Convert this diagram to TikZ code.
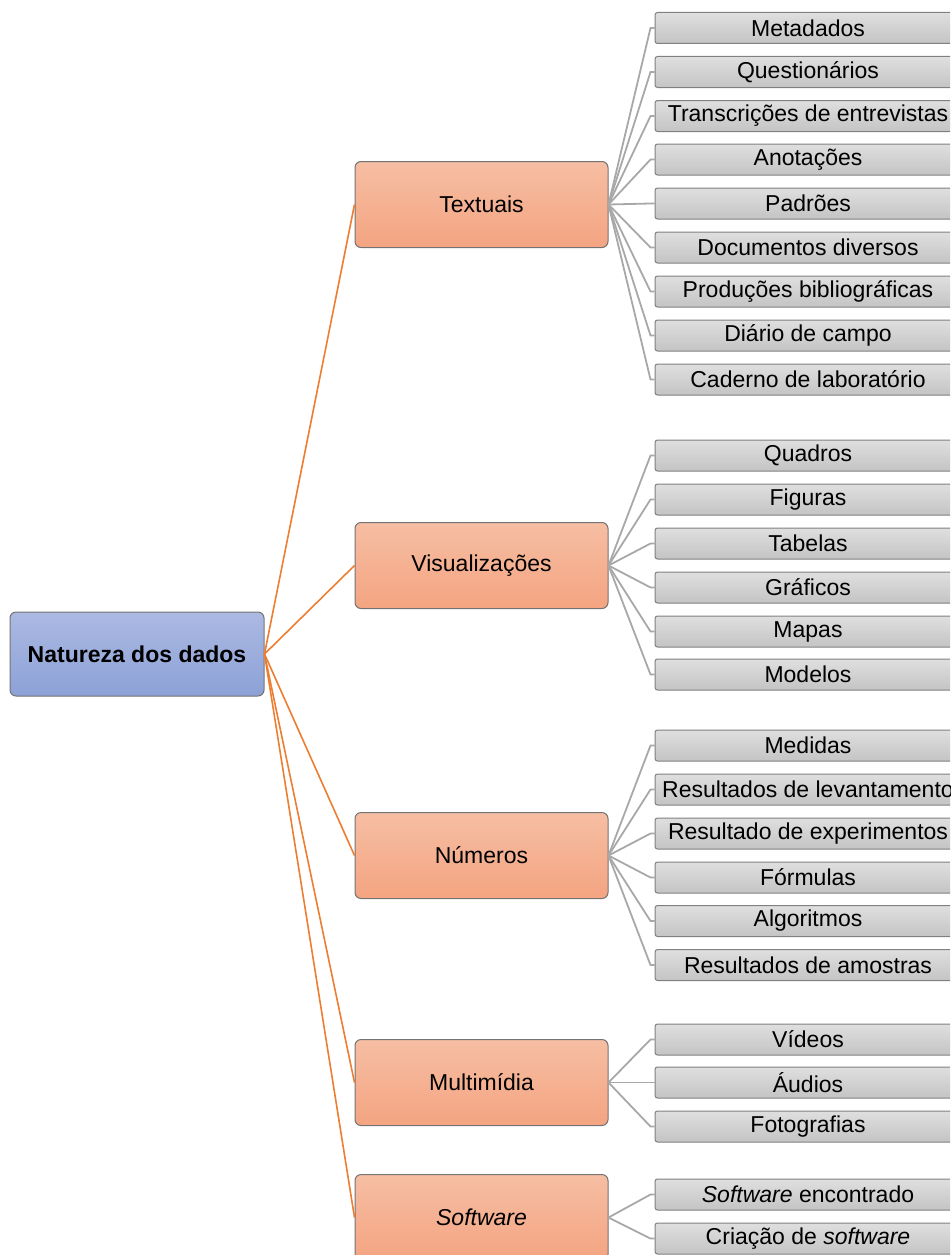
\documentclass[tikz,border=0pt]{standalone}
\usepackage{fontspec}
\setmainfont{Liberation Sans}
\usepackage{tikz}

\definecolor{rootTop}{HTML}{ACBAE2}
\definecolor{rootBot}{HTML}{8CA1D7}
\definecolor{topTop}{HTML}{F6BEA3}
\definecolor{topBot}{HTML}{F4A481}
\definecolor{leafTop}{HTML}{DFDFDF}
\definecolor{leafBot}{HTML}{C4C4C4}
\definecolor{trunkcol}{HTML}{ED7D31}
\definecolor{twigcol}{HTML}{A8A8A8}

\tikzset{
  rootbox/.style={draw=black!55, line width=1pt, rounded corners=6pt,
    top color=rootTop, bottom color=rootBot, minimum width=254pt,
    minimum height=84pt, font=\fontsize{23}{27}\selectfont\bfseries},
  topicbox/.style={draw=black!55, line width=1pt, rounded corners=6pt,
    top color=topTop, bottom color=topBot, minimum width=253pt,
    minimum height=86pt, font=\fontsize{23}{27}\selectfont},
  leafbox/.style={draw=black!50, line width=1pt, rounded corners=2.5pt,
    top color=leafTop, bottom color=leafBot, minimum width=306pt,
    minimum height=31pt, inner sep=2pt, font=\fontsize{23}{27}\selectfont},
  trunk/.style={draw=trunkcol, line width=1.6pt},
  twig/.style={draw=twigcol, line width=1.8pt}
}

\begin{document}
\begin{tikzpicture}[x=1pt,y=-1pt]
  \useasboundingbox (0,0) rectangle (950,1255);
  \clip (0,0) rectangle (950,1255);

  \node[rootbox] (nat) at (137,654) {Natureza dos dados};

  \node[topicbox] (tex) at (481.5,204.5) {Textuais};
  \node[topicbox] (vis) at (481.5,565.5) {Visualizações};
  \node[topicbox] (num) at (481.5,855.5) {Números};
  \node[topicbox] (mul) at (481.5,1082.5) {Multimídia};
  \node[topicbox] (sof) at (481.5,1217.5) {\itshape Software};

  % textuais
  \node[leafbox] (met) at (808,28) {Metadados};
  \node[leafbox] (que) at (808,72) {Questionários};
  \node[leafbox] (tra) at (808,116) {Transcrições de entrevistas};
  \node[leafbox] (ano) at (808,159.5) {Anotações};
  \node[leafbox] (pad) at (808,203.5) {Padrões};
  \node[leafbox] (doc) at (808,247.5) {Documentos diversos};
  \node[leafbox] (pro) at (808,291.5) {Produções bibliográficas};
  \node[leafbox] (dia) at (808,335.5) {Diário de campo};
  \node[leafbox] (cad) at (808,379.5) {Caderno de laboratório};

  % visualizacoes
  \node[leafbox] (qua) at (808,455.5) {Quadros};
  \node[leafbox] (fig) at (808,499.5) {Figuras};
  \node[leafbox] (tab) at (808,543.5) {Tabelas};
  \node[leafbox] (gra) at (808,587.5) {Gráficos};
  \node[leafbox] (map) at (808,631.5) {Mapas};
  \node[leafbox] (mod) at (808,674.5) {Modelos};

  % numeros
  \node[leafbox] (med) at (808,745.5) {Medidas};
  \node[leafbox] (lev) at (808,789.5) {Resultados de levantamento};
  \node[leafbox] (exp) at (808,833.5) {Resultado de experimentos};
  \node[leafbox] (for) at (808,877.5) {Fórmulas};
  \node[leafbox] (alg) at (808,921) {Algoritmos};
  \node[leafbox] (amo) at (808,965) {Resultados de amostras};

  % multimidia
  \node[leafbox] (vid) at (808,1039.5) {Vídeos};
  \node[leafbox] (aud) at (808,1082.5) {Áudios};
  \node[leafbox] (fot) at (808,1126.5) {Fotografias};

  % software
  \node[leafbox] (enc) at (808,1194.5) {\itshape Software\upshape{} encontrado};
  \node[leafbox] (cri) at (808,1238.5) {Criação de \itshape software};

  \draw[trunk] (nat.east) -- (tex.west);
  \draw[trunk] (nat.east) -- (vis.west);
  \draw[trunk] (nat.east) -- (num.west);
  \draw[trunk] (nat.east) -- (mul.west);
  \draw[trunk] (nat.east) -- (sof.west);

  \draw[twig] (tex.east) -- ([xshift=-4pt]met.west) -- (met.west);
  \draw[twig] (tex.east) -- ([xshift=-4pt]que.west) -- (que.west);
  \draw[twig] (tex.east) -- ([xshift=-4pt]tra.west) -- (tra.west);
  \draw[twig] (tex.east) -- ([xshift=-4pt]ano.west) -- (ano.west);
  \draw[twig] (tex.east) -- ([xshift=-4pt]pad.west) -- (pad.west);
  \draw[twig] (tex.east) -- ([xshift=-4pt]doc.west) -- (doc.west);
  \draw[twig] (tex.east) -- ([xshift=-4pt]pro.west) -- (pro.west);
  \draw[twig] (tex.east) -- ([xshift=-4pt]dia.west) -- (dia.west);
  \draw[twig] (tex.east) -- ([xshift=-4pt]cad.west) -- (cad.west);

  \draw[twig] (vis.east) -- ([xshift=-4pt]qua.west) -- (qua.west);
  \draw[twig] (vis.east) -- ([xshift=-4pt]fig.west) -- (fig.west);
  \draw[twig] (vis.east) -- ([xshift=-4pt]tab.west) -- (tab.west);
  \draw[twig] (vis.east) -- ([xshift=-4pt]gra.west) -- (gra.west);
  \draw[twig] (vis.east) -- ([xshift=-4pt]map.west) -- (map.west);
  \draw[twig] (vis.east) -- ([xshift=-4pt]mod.west) -- (mod.west);

  \draw[twig] (num.east) -- ([xshift=-4pt]med.west) -- (med.west);
  \draw[twig] (num.east) -- ([xshift=-4pt]lev.west) -- (lev.west);
  \draw[twig] (num.east) -- ([xshift=-4pt]exp.west) -- (exp.west);
  \draw[twig] (num.east) -- ([xshift=-4pt]for.west) -- (for.west);
  \draw[twig] (num.east) -- ([xshift=-4pt]alg.west) -- (alg.west);
  \draw[twig] (num.east) -- ([xshift=-4pt]amo.west) -- (amo.west);

  \draw[twig] (mul.east) -- ([xshift=-4pt]vid.west) -- (vid.west);
  \draw[twig] (mul.east) -- ([xshift=-4pt]aud.west) -- (aud.west);
  \draw[twig] (mul.east) -- ([xshift=-4pt]fot.west) -- (fot.west);

  \draw[twig] (sof.east) -- ([xshift=-4pt]enc.west) -- (enc.west);
  \draw[twig] (sof.east) -- ([xshift=-4pt]cri.west) -- (cri.west);
\end{tikzpicture}
\end{document}
